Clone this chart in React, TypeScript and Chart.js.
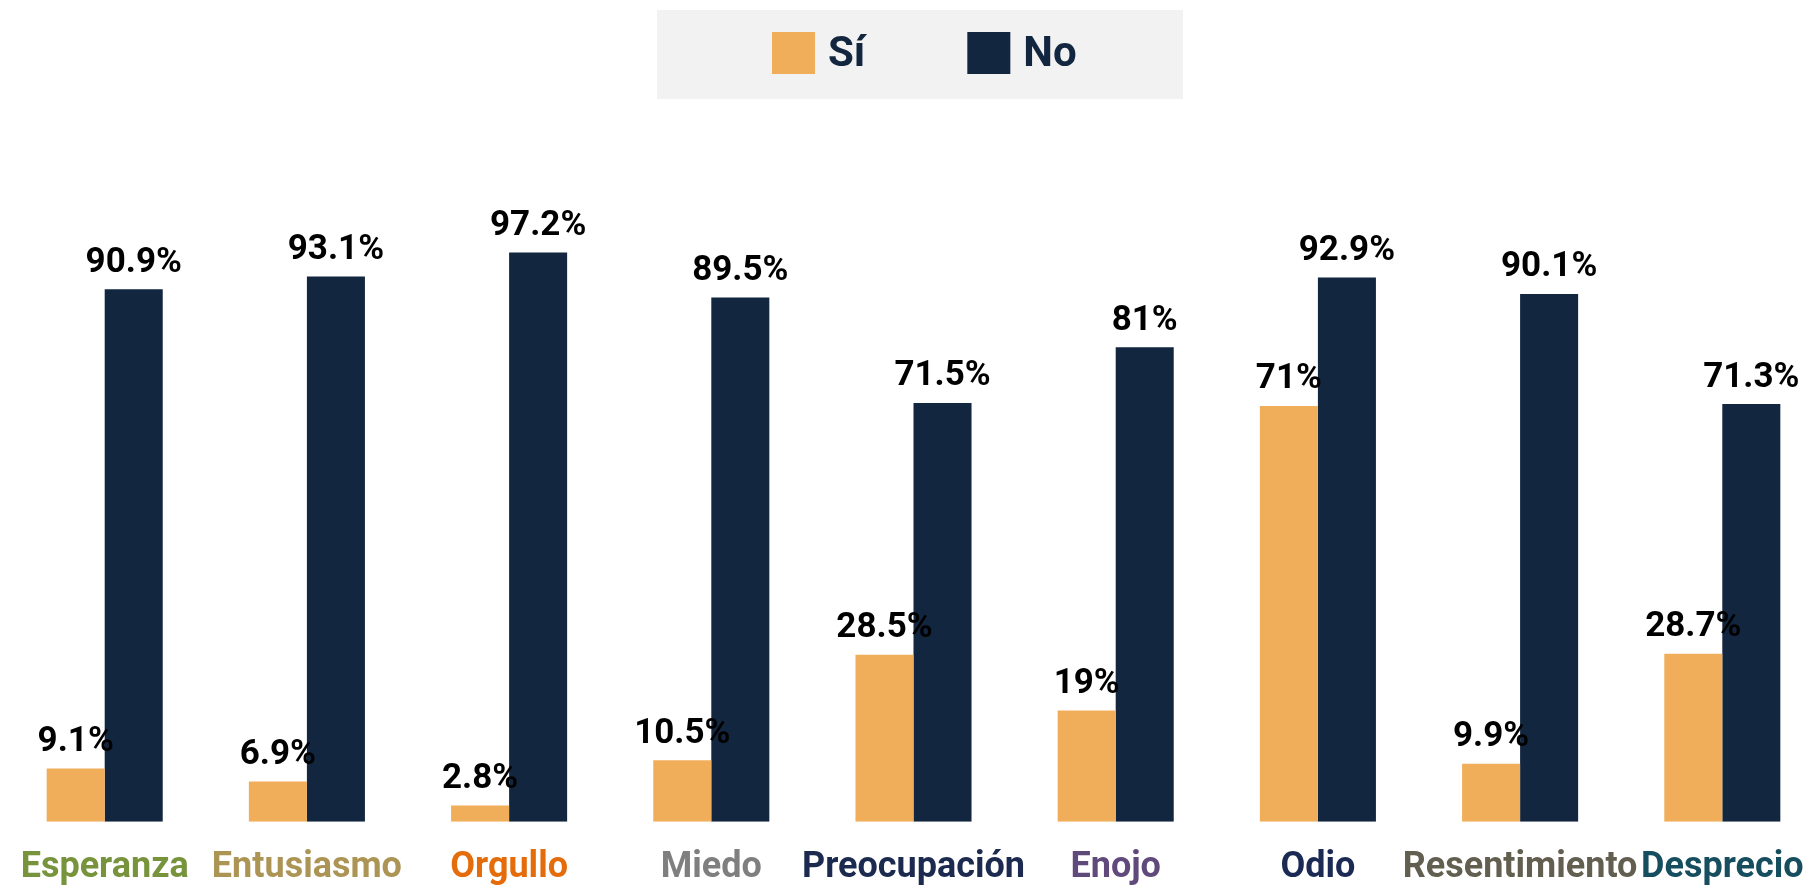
import React, { useEffect, useRef } from "react";
import { Chart, registerables } from "chart.js";

Chart.register(...registerables);

const categories = [
  "Esperanza",
  "Entusiasmo",
  "Orgullo",
  "Miedo",
  "Preocupación",
  "Enojo",
  "Odio",
  "Resentimiento",
  "Desprecio",
];
const categoryColors = [
  "#77933C",
  "#AC9554",
  "#E46C0A",
  "#7F7F7F",
  "#1B2A4E",
  "#604A7B",
  "#1B2A55",
  "#625F51",
  "#164E5F",
];
const siValues = [9.1, 6.9, 2.8, 10.5, 28.5, 19, 71, 9.9, 28.7];
const noValues = [90.9, 93.1, 97.2, 89.5, 71.5, 81, 92.9, 90.1, 71.3];
const seriesLabels = ["Sí", "No"];
const seriesColors = ["#F0AE5A", "#132640"];

const FONT = "Roboto, 'Noto Sans', sans-serif";

const legendPlugin = {
  id: "customLegend",
  afterDraw(chart: any) {
    const ctx = chart.ctx;
    const boxLeft = 657;
    ctx.save();
    ctx.fillStyle = "#F2F2F2";
    ctx.fillRect(boxLeft, 10, 526, 89);
    ctx.font = `bold 42px ${FONT}`;
    const box = 43;
    const gap = 13;
    const spacing = 102;
    const ds = chart.data.datasets;
    let x = boxLeft + 115;
    ds.forEach((d: any) => {
      ctx.fillStyle = d.backgroundColor;
      ctx.fillRect(x, 32, box, 42);
      ctx.fillStyle = "#132640";
      ctx.textBaseline = "alphabetic";
      ctx.textAlign = "left";
      ctx.fillText(d.label, x + box + gap, 66);
      x += box + gap + ctx.measureText(d.label).width + spacing;
    });
    ctx.restore();
  },
};

const valueLabelPlugin = {
  id: "valueLabels",
  afterDatasetsDraw(chart: any) {
    const ctx = chart.ctx;
    ctx.save();
    ctx.font = `bold 35px ${FONT}`;
    ctx.fillStyle = "#000000";
    ctx.textAlign = "center";
    ctx.textBaseline = "alphabetic";
    chart.data.datasets.forEach((ds: any, di: number) => {
      const meta = chart.getDatasetMeta(di);
      meta.data.forEach((el: any, i: number) => {
        ctx.fillText(`${ds.data[i]}%`, el.x, el.y - 17.5);
      });
    });
    ctx.restore();
  },
};

export default function App() {
  const ref = useRef<HTMLCanvasElement | null>(null);
  useEffect(() => {
    if (!ref.current) return;
    const chart = new Chart(ref.current, {
      type: "bar",
      data: {
        labels: categories,
        datasets: [
          { label: seriesLabels[0], data: siValues, backgroundColor: seriesColors[0], borderWidth: 0 },
          { label: seriesLabels[1], data: noValues, backgroundColor: seriesColors[1], borderWidth: 0 },
        ],
      },
      options: {
        responsive: false,
        animation: false,
        layout: { padding: { top: 236, bottom: 4, left: 3.6, right: 0.6 } },
        datasets: { bar: { categoryPercentage: 0.574, barPercentage: 1 } },
        plugins: {
          legend: { display: false },
          tooltip: { enabled: false },
        },
        scales: {
          x: {
            grid: {
              display: true,
              drawOnChartArea: false,
              drawTicks: true,
              tickLength: 25,
              color: "rgba(0,0,0,0)",
            },
            border: { display: false },
            ticks: {
              autoSkip: false,
              maxRotation: 0,
              minRotation: 0,
              padding: 0,
              font: { family: FONT, size: 36, weight: "bold" },
              color: (c: any) => categoryColors[c.index] || "#000",
            },
          },
          y: {
            display: false,
            min: 0,
            max: 100,
          },
        },
      },
      plugins: [legendPlugin, valueLabelPlugin],
    });
    return () => chart.destroy();
  }, []);
  return (
    <div
      style={{
        position: "fixed",
        left: 0,
        top: 0,
        width: 1817,
        height: 894,
        overflow: "hidden",
        background: "#fff",
      }}
    >
      <canvas ref={ref} width={1824} height={894} style={{ display: "block" }} />
    </div>
  );
}
